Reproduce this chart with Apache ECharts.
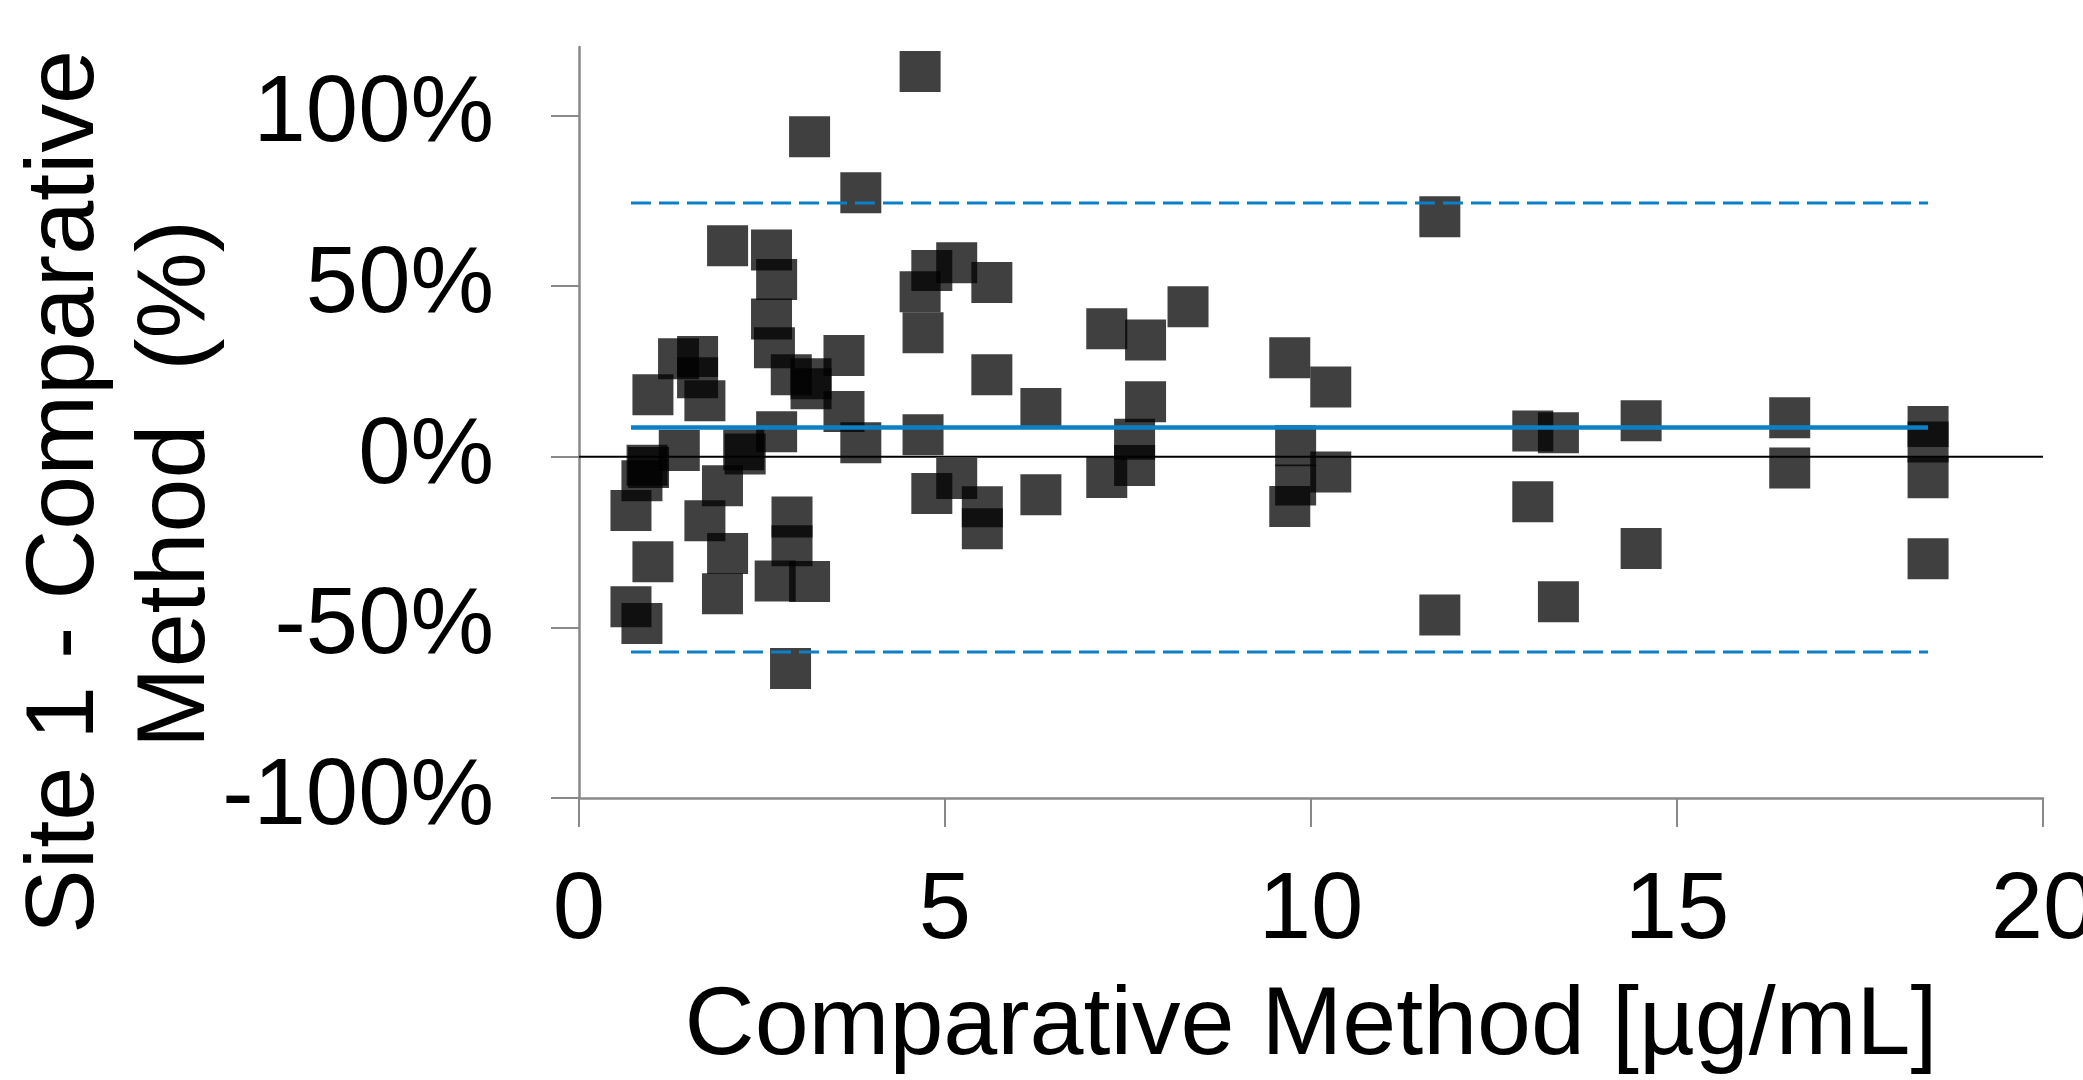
<!DOCTYPE html>
<html lang="en">

<head>
    <meta charset="UTF-8">
    <title>Site 1 - Comparative Method</title>
</head>

<body style="margin: 0; background: #fff">
    <div id="container" style="width: 2083px; height: 1080px"></div>
    <script type="text/javascript" src="https://cdn.jsdelivr.net/npm/echarts@6.0.0/dist/echarts.min.js"></script>
    <script type="text/javascript">
        // comparative method value [µg/mL]
        var compX = [
            4.66, 3.15, 3.85, 2.03, 2.63, 2.70, 2.63, 2.67, 4.82, 5.16,
            4.66, 4.70, 5.64, 5.64, 6.31, 1.36, 1.62, 1.62, 1.72, 1.01,
            2.90, 3.17, 3.17, 3.62, 3.62, 3.85, 2.70, 4.70, 6.31, 1.37,
            0.93, 0.95, 0.86, 0.71, 1.01, 0.71, 0.86, 1.72, 1.96, 2.03,
            1.96, 2.25, 2.27, 2.91, 2.91, 2.68, 3.15, 2.89, 5.16, 4.82,
            5.51, 5.51, 7.74, 7.21, 7.74, 8.32, 9.71, 10.27, 11.76, 7.59,
            7.59, 7.21, 9.79, 9.79, 9.71, 10.27, 11.76, 13.03, 13.38, 13.03,
            13.38, 14.51, 14.51, 16.54, 16.54, 18.43, 18.43, 18.43, 18.43
        ];
        // site 1 - comparative difference (%)
        var diffPct = [
            112.8, 93.7, 77.3, 61.8, 60.5, 51.9, 40.3, 31.9, 54.5, 56.8,
            48.3, 36.3, 51.0, 24.0, 14.1, 28.7, 29.3, 23.1, 16.4, 18.1,
            24.0, 22.8, 19.9, 29.6, 13.2, 4.1, 7.3, 6.4, -11.2, 1.8,
            -2.5, -3.2, -7.1, -15.8, -30.8, -44.0, -48.9, -18.8, -8.5, -28.4,
            -40.2, 2.0, 0.8, -17.7, -26.1, -36.4, -36.6, -62.1, -6.4, -10.8,
            -14.7, -21.1, 16.1, 37.5, 34.2, 43.9, 29.0, 20.4, 70.3, 5.1,
            -2.6, -6.1, 3.2, -8.3, -14.6, -4.5, -46.4, 7.5, 7.0, -13.2,
            -42.5, 10.5, -26.9, 11.4, -3.3, 8.8, 4.3, -6.2, -29.9
        ];
        // bias line and limits of agreement
        var meanBias = 8.5;
        var upperLimit = 74.3;
        var lowerLimit = -57.2;
        var lineRange = [0.71, 18.43];
        var yTicks = [-100, -50, 0, 50, 100];

        var points = compX.map(function (x, i) {
            return [x, diffPct[i]];
        });
        function flat(v) {
            return [[lineRange[0], v], [lineRange[1], v]];
        }

        var axisGray = '#898989';
        var blue = '#0B80C6';
        var font = 'Liberation Sans, Arial, sans-serif';

        var myChart = echarts.init(document.getElementById('container'));
        var option = {
            animation: false,
            backgroundColor: '#fff',
            grid: { left: 579, right: 40, top: 47, bottom: 282, outerBoundsMode: 'none' },
            graphic: [
                {
                    type: 'text', x: 66, y: 492, rotation: Math.PI / 2,
                    style: { text: 'Site 1 - Comparative', font: '97px ' + font, fill: '#000', align: 'center', verticalAlign: 'middle' }
                },
                {
                    type: 'text', x: 177, y: 484, rotation: Math.PI / 2,
                    style: { text: 'Method  (%)', font: '97px ' + font, fill: '#000', align: 'center', verticalAlign: 'middle' }
                }
            ],
            xAxis: {
                type: 'value', min: 0, max: 20, interval: 5,
                name: 'Comparative Method [µg/mL]',
                nameLocation: 'middle', nameGap: 181,
                nameTextStyle: { fontSize: 97, color: '#000', fontFamily: font },
                axisLine: { onZero: false, lineStyle: { color: axisGray, width: 2.5 } },
                axisTick: { length: 29, lineStyle: { color: axisGray, width: 2 } },
                axisLabel: { fontSize: 94, color: '#000', fontFamily: font, margin: 67 },
                splitLine: { show: false }
            },
            yAxis: {
                type: 'value', min: -100, max: 120, interval: 50,
                axisLine: { show: true, onZero: false, lineStyle: { color: axisGray, width: 2.5 } },
                axisTick: { show: true, length: 28, customValues: yTicks, lineStyle: { color: axisGray, width: 2 } },
                axisLabel: {
                    fontSize: 94, color: '#000', fontFamily: font, margin: 85,
                    customValues: yTicks,
                    formatter: function (v) { return v % 50 === 0 ? v + '%' : ''; }
                },
                splitLine: { show: false }
            },
            series: [
                {
                    type: 'line', data: [[0, 0], [20, 0]], symbol: 'none', silent: true,
                    lineStyle: { color: '#000', width: 2 }
                },
                {
                    type: 'line', data: flat(upperLimit), symbol: 'none', silent: true,
                    lineStyle: { color: blue, width: 3, type: [20, 8] }
                },
                {
                    type: 'line', data: flat(lowerLimit), symbol: 'none', silent: true,
                    lineStyle: { color: blue, width: 3, type: [20, 8] }
                },
                {
                    type: 'line', data: flat(meanBias), symbol: 'none', silent: true,
                    lineStyle: { color: blue, width: 4.5 }
                },
                {
                    type: 'scatter', data: points, symbol: 'rect', symbolSize: 41,
                    itemStyle: { color: '#000', opacity: 0.75 }
                }
            ]
        };
        myChart.setOption(option);
    </script>
</body>

</html>
